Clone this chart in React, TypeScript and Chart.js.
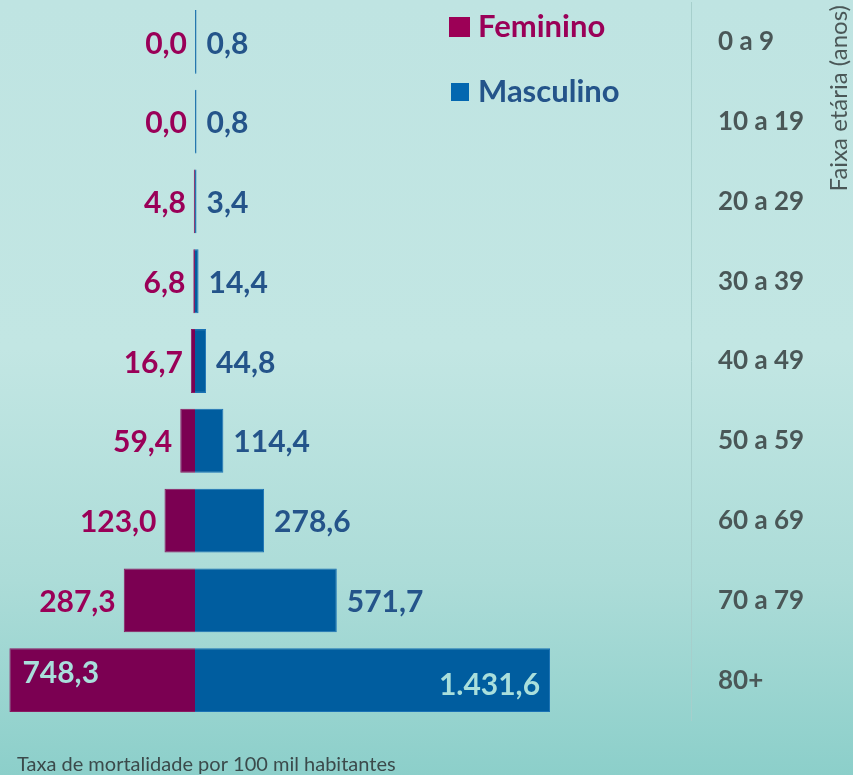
import React, { useEffect, useRef } from "react";
import { Chart, registerables } from "chart.js";

Chart.register(...registerables);

const categories = ["0 a 9", "10 a 19", "20 a 29", "30 a 39", "40 a 49", "50 a 59", "60 a 69", "70 a 79", "80+"];
const femininoValues = [0.0, 0.0, 4.8, 6.8, 16.7, 59.4, 123.0, 287.3, 748.3];
const masculinoValues = [0.8, 0.8, 3.4, 14.4, 44.8, 114.4, 278.6, 571.7, 1431.6];
const seriesLabels = ["Feminino", "Masculino"];
const axisTitle = "Faixa etária (anos)";
const footnote = "Taxa de mortalidade por 100 mil habitantes";

const FEM_BAR = "#7b0052";
const MASC_BAR = "#005d9f";
const FEM_TEXT = "#9a0058";
const MASC_TEXT = "#24548a";
const FEM_LEG = "#9c0056";
const MASC_LEG = "#0367b0";
const INSIDE_TEXT = "#a9dfdc";
const GREY = "#4a5757";

function fmt(v: number): string {
  const fixed = Math.abs(v).toFixed(1);
  const [intPart, dec] = fixed.split(".");
  const withSep = intPart.replace(/\B(?=(\d{3})+(?!\d))/g, ".");
  return withSep + "," + dec;
}

const labelPlugin = {
  id: "customLabels",
  afterDatasetsDraw(chart: any) {
    const ctx = chart.ctx;
    ctx.save();
    ctx.font = "bold 30px Lato";
    ctx.textBaseline = "middle";
    const m0 = chart.getDatasetMeta(0);
    m0.data.forEach((el: any, i: number) => {
      const v = femininoValues[i];
      const w = Math.abs(el.base - el.x);
      const y = el.y + 2;
      if (w > 160) {
        ctx.fillStyle = INSIDE_TEXT;
        ctx.textAlign = "left";
        ctx.fillText(fmt(v), el.x + 13, y - 9);
      } else {
        ctx.fillStyle = FEM_TEXT;
        ctx.textAlign = "right";
        ctx.fillText(fmt(v), Math.min(el.x, el.base) - 8, y);
      }
    });
    const m1 = chart.getDatasetMeta(1);
    m1.data.forEach((el: any, i: number) => {
      const v = masculinoValues[i];
      const w = Math.abs(el.x - el.base);
      const y = el.y + 2;
      if (w > 160) {
        ctx.fillStyle = INSIDE_TEXT;
        ctx.textAlign = "right";
        ctx.fillText(fmt(v), el.x - 10, y + 3);
      } else {
        ctx.fillStyle = MASC_TEXT;
        ctx.textAlign = "left";
        ctx.fillText(fmt(v), Math.max(el.x, el.base + 1.5) + 10, y);
      }
    });

    // Legend
    ctx.textAlign = "left";
    ctx.textBaseline = "alphabetic";
    ctx.font = "bold 31px Lato";
    ctx.fillStyle = FEM_LEG;
    ctx.fillRect(449, 17, 21, 20);
    ctx.fillStyle = FEM_TEXT;
    ctx.fillText(seriesLabels[0], 478, 37);
    ctx.fillStyle = MASC_LEG;
    ctx.fillRect(451, 83, 18, 18);
    ctx.fillStyle = MASC_TEXT;
    ctx.fillText(seriesLabels[1], 478, 102);

    // Axis title (rotated)
    ctx.save();
    ctx.translate(851, 5);
    ctx.rotate(-Math.PI / 2);
    ctx.font = "24px Lato";
    ctx.fillStyle = GREY;
    ctx.textAlign = "right";
    ctx.textBaseline = "bottom";
    ctx.fillText(axisTitle, 0, 0);
    ctx.restore();

    // Footnote
    ctx.font = "20px Lato";
    ctx.fillStyle = "#3b4a4b";
    ctx.textAlign = "left";
    ctx.textBaseline = "alphabetic";
    ctx.fillText(footnote, 17, 771);
    ctx.restore();
  },
};

export default function App() {
  const ref = useRef<HTMLCanvasElement>(null);
  useEffect(() => {
    if (!ref.current) return;
    const chart = new Chart(ref.current, {
      type: "bar",
      data: {
        labels: categories,
        datasets: [
          {
            label: seriesLabels[0],
            data: femininoValues.map((v) => -v),
            backgroundColor: FEM_BAR,
            borderColor: "#8a1a62",
            borderWidth: 1,
            categoryPercentage: 0.8,
            barPercentage: 1,
          },
          {
            label: seriesLabels[1],
            data: masculinoValues,
            backgroundColor: MASC_BAR,
            borderColor: "#1a72b5",
            borderWidth: 1,
            minBarLength: 1.5,
            categoryPercentage: 0.8,
            barPercentage: 1,
          },
        ],
      },
      options: {
        indexAxis: "y",
        responsive: false,
        animation: false,
        devicePixelRatio: 1,
        layout: { padding: { top: 2, bottom: 55, left: 9, right: 0 } },
        plugins: { legend: { display: false }, tooltip: { enabled: false } },
        scales: {
          x: { stacked: true, display: false, min: -750, max: 2000 },
          y: {
            stacked: true,
            position: "right",
            grid: { display: false, drawTicks: false },
            border: { display: true, color: "#a6cfcc", width: 1 },
            ticks: {
              padding: 27,
              color: GREY,
              font: { family: "Lato", weight: "bold", size: 26 },
            },
            afterFit: (scale: any) => {
              scale.width = 162;
              scale.paddingTop = 0;
              scale.paddingBottom = 0;
            },
          },
        },
      },
      plugins: [labelPlugin],
    } as any);
    return () => chart.destroy();
  }, []);
  return (
    <div
      style={{
        position: "fixed",
        left: 0,
        top: 0,
        width: 853,
        height: 775,
        background: "linear-gradient(to bottom, #bfe4e2 0%, #c2e6e3 45%, #acdcd8 75%, #8ccfca 100%)",
      }}
    >
      <canvas ref={ref} width={853} height={775} style={{ display: "block" }} />
    </div>
  );
}
